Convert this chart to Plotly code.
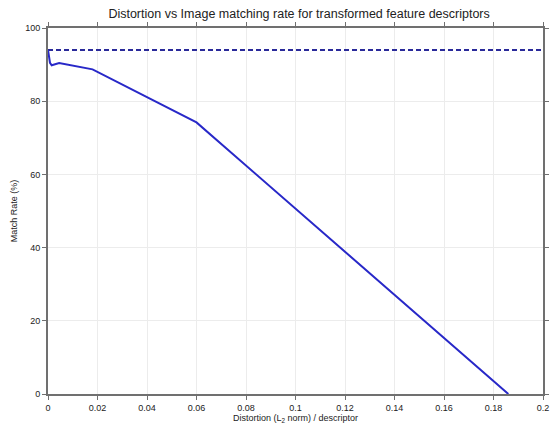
import plotly.graph_objects as go

distortion = [0.0, 0.0008, 0.0015, 0.0045, 0.018, 0.06, 0.186]
match_rate = [94.0, 90.5, 89.8, 90.4, 88.7, 74.2, 0.0]
baseline_x = [0.0, 0.2]
baseline_y = [94.0, 94.0]
x_ticks = [0, 0.02, 0.04, 0.06, 0.08, 0.1, 0.12, 0.14, 0.16, 0.18, 0.2]
x_tick_labels = ["0", "0.02", "0.04", "0.06", "0.08", "0.1", "0.12", "0.14", "0.16", "0.18", "0.2"]
y_ticks = [0, 20, 40, 60, 80, 100]

fig = go.Figure()
fig.add_trace(go.Scatter(x=baseline_x, y=baseline_y, mode="lines",
                         line=dict(color="#2a2a9a", width=2, dash="5px,3px"), showlegend=False))
fig.add_trace(go.Scatter(x=distortion, y=match_rate, mode="lines",
                         line=dict(color="#2828c8", width=2), showlegend=False))

axis_common = dict(showline=True, linecolor="#707070", linewidth=2, mirror="ticks",
                   ticks="outside", ticklen=4, tickcolor="#707070", tickwidth=1,
                   showgrid=True, gridcolor="#ececec", gridwidth=1,
                   zeroline=False, tickfont=dict(family="Liberation Sans, Arial", size=9, color="#222"))

fig.update_layout(
    width=558, height=428,
    margin=dict(l=48, r=9, t=28, b=31),
    paper_bgcolor="white", plot_bgcolor="white",
    title=dict(text="Distortion vs Image matching rate for transformed feature descriptors",
               x=0.536, xanchor="center", y=0.967, yanchor="middle",
               font=dict(family="Liberation Sans, Arial", size=12.5, color="#222")),
    xaxis=dict(range=[0, 0.2], tickvals=x_ticks, ticktext=x_tick_labels,
               title=dict(text="Distortion (L<sub>2</sub> norm) / descriptor", standoff=0,
                          font=dict(family="Liberation Sans, Arial", size=9, color="#222")),
               **axis_common),
    yaxis=dict(range=[0, 100], tickvals=y_ticks,
               title=dict(text="Match Rate (%)", standoff=6,
                          font=dict(family="Liberation Sans, Arial", size=9, color="#222")),
               **axis_common),
)

fig.write_html("out.html")
